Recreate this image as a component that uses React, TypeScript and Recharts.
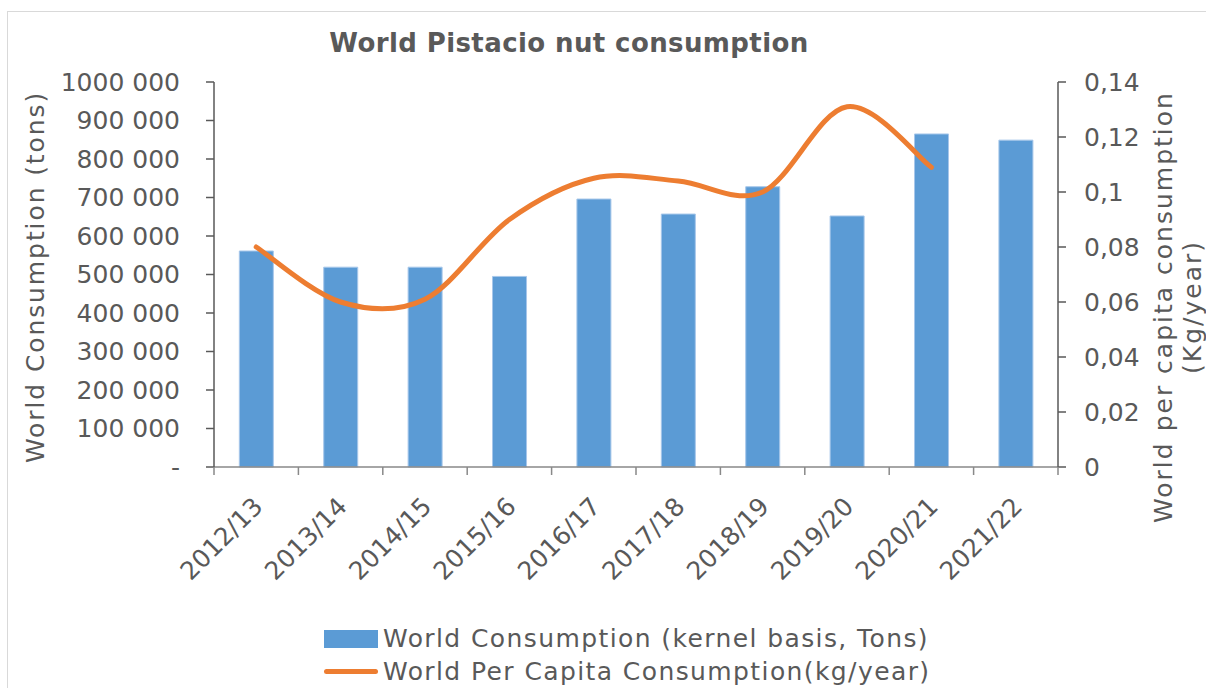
import { Bar, ComposedChart, Label, Line, XAxis, YAxis } from "recharts";

const seasons = ["2012/13", "2013/14", "2014/15", "2015/16", "2016/17", "2017/18", "2018/19", "2019/20", "2020/21", "2021/22"];
const consumption = [561000, 519000, 519000, 495000, 696000, 657000, 728000, 652000, 865000, 849000];
const perCapita: (number | null)[] = [0.08, 0.06, 0.061, 0.09, 0.105, 0.104, 0.1, 0.131, 0.109, null];
const tonTicks = [0, 100000, 200000, 300000, 400000, 500000, 600000, 700000, 800000, 900000, 1000000];
const kgTicks = [0, 0.02, 0.04, 0.06, 0.08, 0.1, 0.12, 0.14];

const data = seasons.map((season, i) => ({ season, tons: consumption[i], kg: perCapita[i] }));

const FONT = "'DejaVu Sans', sans-serif";
const TEXT = "#595959";
const BLUE = "#5B9BD5";
const ORANGE = "#ED7D31";

// excel style smoothing (cardinal spline, tension 0)
function excelSmooth(context: any) {
    let pts: number[][] = [];
    return {
        areaStart() {},
        areaEnd() {},
        lineStart() { pts = []; },
        point(x: number, y: number) { pts.push([+x, +y]); },
        lineEnd() {
            if (!pts.length) return;
            context.moveTo(pts[0][0], pts[0][1]);
            for (let i = 0; i < pts.length - 1; i++) {
                const p0 = pts[i - 1] || pts[i];
                const p1 = pts[i];
                const p2 = pts[i + 1];
                const p3 = pts[i + 2] || pts[i + 1];
                context.bezierCurveTo(
                    p1[0] + (p2[0] - p0[0]) / 6, p1[1] + (p2[1] - p0[1]) / 6,
                    p2[0] - (p3[0] - p1[0]) / 6, p2[1] - (p3[1] - p1[1]) / 6,
                    p2[0], p2[1]
                );
            }
        },
    };
}

function tonLabel(v: number) {
    return v === 0 ? "-" : `${Math.round(v / 1000)} 000`;
}

function kgLabel(v: number) {
    return String(v).replace(".", ",");
}

function SeasonTick(props: any) {
    const { x, y, payload, index, visibleTicksCount } = props;
    const half = payload?.offset ?? 42;
    const tx = x + 2;
    const ty = y + 27;
    return (
        <g>
            <line x1={x - half} y1={y - 8} x2={x - half} y2={y} stroke="#898989" strokeWidth={1.5} />
            {index === visibleTicksCount - 1 &&
                <line x1={x + half} y1={y - 8} x2={x + half} y2={y} stroke="#898989" strokeWidth={1.5} />}
            <text x={tx} y={ty} transform={`rotate(-45, ${tx}, ${ty})`} textAnchor="end" dominantBaseline="central"
                fill={TEXT} fontSize={25} fontFamily={FONT}>
                {payload.value}
            </text>
        </g>
    );
}

export default function App() {
    return (
        <div style={{ position: "absolute", left: 0, top: 0, width: 1206, height: 688, overflow: "hidden", background: "#fff", fontFamily: FONT }}>
            <div style={{ position: "absolute", left: 7, top: 11, width: 1300, height: 800, border: "1px solid #d9d9d9" }} />
            <div style={{ position: "absolute", left: 0, top: 28, width: 1138, textAlign: "center", fontSize: 26, fontWeight: "bold", color: TEXT, letterSpacing: 0.4 }}>
                World Pistacio nut consumption
            </div>
            <ComposedChart width={1206} height={688} data={data} barCategoryGap="30%"
                margin={{ top: 82, right: 0, bottom: 0, left: 0 }}
                style={{ position: "absolute", left: 0, top: 0 }}>
                <XAxis dataKey="season" height={221} tickLine={false} interval={0}
                    axisLine={{ stroke: "#898989", strokeWidth: 1.5 }} tick={<SeasonTick />} />
                <YAxis yAxisId="left" width={214} domain={[0, 1000000]} ticks={tonTicks} tickFormatter={tonLabel}
                    interval={0} tickSize={8} tickMargin={26}
                    axisLine={{ stroke: TEXT, strokeWidth: 1.5 }} tickLine={{ stroke: TEXT, strokeWidth: 1.5 }}
                    tick={{ fill: TEXT, fontSize: 25, fontFamily: FONT }}>
                    <Label content={() => (
                        <text x={35} y={277} transform="rotate(-90, 35, 277)" textAnchor="middle" dominantBaseline="central"
                            fill={TEXT} fontSize={25} fontFamily={FONT} letterSpacing={1.9}>World Consumption (tons)</text>
                    )} />
                </YAxis>
                <YAxis yAxisId="right" orientation="right" width={148} domain={[0, 0.14]} ticks={kgTicks} tickFormatter={kgLabel}
                    interval={0} tickSize={8} tickMargin={18}
                    axisLine={{ stroke: TEXT, strokeWidth: 1.5 }} tickLine={{ stroke: TEXT, strokeWidth: 1.5 }}
                    tick={{ fill: TEXT, fontSize: 25, fontFamily: FONT, textAnchor: "start" }}>
                    <Label content={() => (
                        <text transform="rotate(-90, 1163, 307)" x={1163} y={307} textAnchor="middle"
                            fill={TEXT} fontSize={25} fontFamily={FONT} letterSpacing={2}>
                            <tspan x={1163} dy={9}>World per capita consumption</tspan>
                            <tspan x={1163} dy={29}>(Kg/year)</tspan>
                        </text>
                    )} />
                </YAxis>
                <Bar yAxisId="left" dataKey="tons" fill={BLUE} stroke="#a7c7ea" strokeWidth={1} isAnimationActive={false} />
                <Line yAxisId="right" dataKey="kg" type={excelSmooth as any} stroke={ORANGE} strokeWidth={5}
                    strokeLinecap="round" dot={false} activeDot={false} isAnimationActive={false} />
            </ComposedChart>
            <div style={{ position: "absolute", left: 324, top: 622, fontSize: 25, color: TEXT, lineHeight: "33px", letterSpacing: 1.4 }}>
                <div style={{ display: "flex", alignItems: "center" }}>
                    <span style={{ display: "inline-block", width: 54, height: 18, background: BLUE, marginRight: 5 }} />
                    World Consumption (kernel basis, Tons)
                </div>
                <div style={{ display: "flex", alignItems: "center" }}>
                    <span style={{ display: "inline-block", width: 54, height: 5, borderRadius: 3, background: ORANGE, marginRight: 5 }} />
                    World Per Capita Consumption(kg/year)
                </div>
            </div>
        </div>
    );
}
